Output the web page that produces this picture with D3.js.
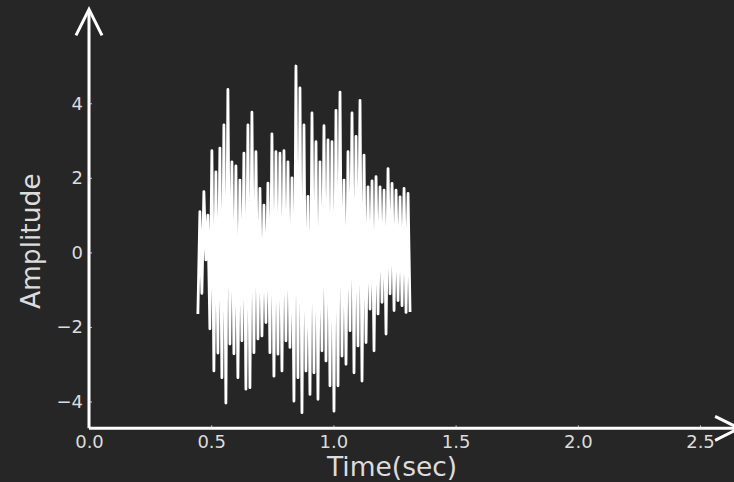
<!DOCTYPE html>
<html>
<head>
<meta charset="utf-8">
<script src="https://cdn.jsdelivr.net/npm/d3@7/dist/d3.min.js"></script>
<style>
  html, body { margin: 0; padding: 0; background: #262626; }
  svg { display: block; }
</style>
</head>
<body>
<svg id="chart" width="734" height="482"></svg>
<script>
// ---- data ----
const xTicks = [0.0, 0.5, 1.0, 1.5, 2.0, 2.5];
const yTicks = [-4, -2, 0, 2, 4];
const xLabel = "Time(sec)";
const yLabel = "Amplitude";
const signalStart = 0.4455;   // sec
const sampleStep = 0.00819;   // sec
const amplitude = [
  -1.65, 1.09, -1.1, 1.63, -0.2, 1.0, -2.05, 2.73, -3.18, 2.16,
  -2.7, 2.8, -3.36, 3.42, -4.04, 4.37, -2.46, 2.43, -2.72, 2.32,
  -3.36, 1.94, -2.37, 2.66, -3.67, 3.42, -3.63, 3.76, -2.69, 2.7,
  -2.32, 1.72, -2.24, 1.27, -1.88, 1.86, -2.69, 3.18, -3.32, 2.7,
  -2.73, 2.66, -3.18, 2.73, -2.37, 2.43, -2.55, 2.0, -3.99, 5.0,
  -3.36, 4.41, -4.3, 3.42, -3.18, 1.5, -3.81, 3.74, -3.23, 2.97,
  -3.94, 2.43, -2.64, 3.4, -2.91, 3.02, -3.58, 2.97, -4.26, 3.81,
  -3.58, 4.3, -2.78, 1.94, -3.0, 2.7, -2.1, 3.74, -3.23, 3.11,
  -2.51, 4.08, -3.45, 2.61, -2.42, 1.76, -1.52, 1.92, -2.64, 2.03,
  -1.65, 1.76, -1.34, 1.67, -2.19, 2.25, -1.11, 1.85, -1.56, 1.67,
  -1.29, 1.49, -1.43, 1.72, -1.61, 1.58, -1.6
];
const xAxisEnd = 2.66;   // where the x arrow tip sits (data units)
const yAxisMin = -4.72;
const yAxisMax = 6.52;

// ---- drawing ----
const svg = d3.select("#chart");
const W = 734, H = 482;
svg.append("rect").attr("width", W).attr("height", H).attr("fill", "#262626");

const x = d3.scaleLinear().domain([0, 2.5]).range([89, 700]);
const y = d3.scaleLinear().domain([-4, 4]).range([401.5, 103.3]);

const fg = "#ffffff";
const tickColor = "#dcdcdc";
const font = "DejaVu Sans";

// signal
const pts = amplitude.map((v, i) => ({ t: signalStart + i * sampleStep, v }));
const line = d3.line().x(d => x(d.t)).y(d => y(d.v));
svg.append("path")
  .datum(pts)
  .attr("d", line)
  .attr("fill", "none")
  .attr("stroke", fg)
  .attr("stroke-width", 2.8)
  .attr("stroke-linejoin", "round");

// x axis
const xAxisG = svg.append("g").attr("transform", `translate(0,${y(yAxisMin)})`)
  .call(d3.axisBottom(x).tickValues(xTicks).tickFormat(d3.format(".1f")).tickSize(-3).tickPadding(7));
xAxisG.select(".domain").remove();
xAxisG.selectAll("line").attr("stroke", "#bbbbbb").attr("stroke-width", 1);
xAxisG.selectAll("text")
  .attr("fill", tickColor)
  .attr("font-family", font)
  .attr("font-size", 18);

// y axis
const yAxisG = svg.append("g").attr("transform", `translate(${x(0)},0)`)
  .call(d3.axisLeft(y).tickValues(yTicks).tickFormat(d => d < 0 ? "\u2212" + Math.abs(d) : String(d)).tickSize(-3).tickPadding(6));
yAxisG.select(".domain").remove();
yAxisG.selectAll("line").attr("stroke", "#bbbbbb").attr("stroke-width", 1);
yAxisG.selectAll("text")
  .attr("fill", tickColor)
  .attr("font-family", font)
  .attr("font-size", 18);

// axis lines with arrows
const x0 = x(0), yb = y(yAxisMin), yt = y(yAxisMax), xr = x(xAxisEnd);
const axisStyle = sel => sel.attr("stroke", fg).attr("stroke-width", 3)
  .attr("fill", "none").attr("stroke-linecap", "butt").attr("stroke-linejoin", "miter");
svg.append("path").attr("d", `M${x0},${yb}L${x0},${yt + 1}`).call(axisStyle);
svg.append("path").attr("d", `M${x0},${yb}L${xr - 1},${yb}`).call(axisStyle);
svg.append("path").attr("d", `M${x0 - 13},${yt + 26}L${x0},${yt}L${x0 + 13},${yt + 26}`).call(axisStyle);
svg.append("path").attr("d", `M${xr - 24},${yb - 12}L${xr},${yb}L${xr - 24},${yb + 12}`).call(axisStyle);

// axis labels
svg.append("text")
  .attr("x", x(1.24)).attr("y", 476)
  .attr("text-anchor", "middle")
  .attr("fill", tickColor)
  .attr("font-family", font)
  .attr("font-size", 26.5)
  .text(xLabel);
svg.append("text")
  .attr("transform", `translate(40,${y(0.3)}) rotate(-90)`)
  .attr("text-anchor", "middle")
  .attr("fill", tickColor)
  .attr("font-family", font)
  .attr("font-size", 26.5)
  .text(yLabel);
</script>
</body>
</html>
